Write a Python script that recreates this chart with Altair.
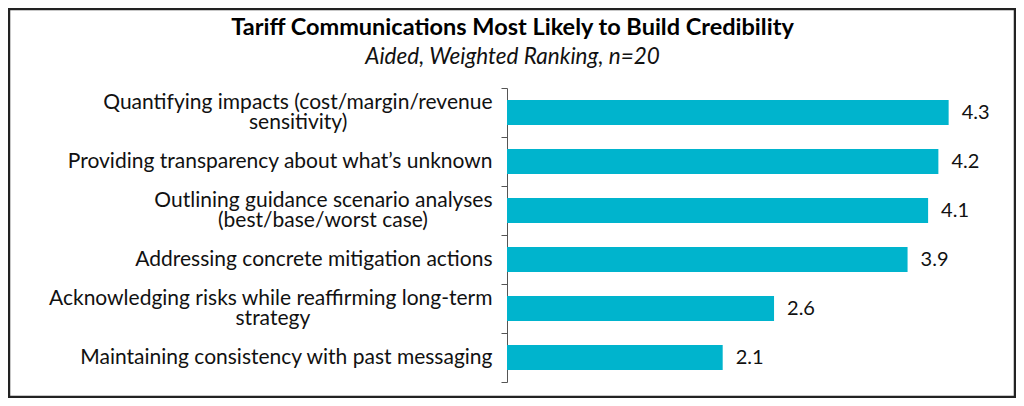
import altair as alt
import pandas as pd

line1 = [
    "Quantifying impacts (cost/margin/revenue",
    "Providing transparency about what’s unknown",
    "Outlining guidance scenario analyses",
    "Addressing concrete mitigation actions",
    "Acknowledging risks while reaffirming long-term",
    "Maintaining consistency with past messaging",
]
line2 = ["sensitivity)", "", "(best/base/worst case)", "", "strategy", ""]
values = [4.3, 4.2, 4.1, 3.9, 2.6, 2.1]
# trailing no-break spaces that centre a short second line under the first
pad = [27, 0, 12, 0, 34, 0]

NB, ZW = "\u00a0", "\u200b"
labels = [
    (a + "|" + ZW + "|" + b + NB * p + ZW) if b else (ZW + "|" + a)
    for a, b, p in zip(line1, line2, pad)
]
df = pd.DataFrame({"label": labels, "value": values})

FONT = "Lato"
HALF_LH = 9.75

y_enc = alt.Y(
    "label:N",
    sort=labels,
    title=None,
    scale=alt.Scale(paddingInner=0, paddingOuter=0),
    axis=alt.Axis(
        labelExpr="split(datum.label, '|')",
        labelFont=FONT,
        labelFontSize=21,
        labelColor="#111111",
        labelLineHeight=HALF_LH,
        labelOffset=-HALF_LH,
        labelPadding=9,
        labelAlign="right",
        labelLimit=600,
        tickSize=6,
        tickBand="extent",
        tickColor="#555555",
        domainColor="#555555",
        grid=False,
    ),
)
x_enc = alt.X("value:Q", title=None, scale=alt.Scale(domain=[0, 4.8], nice=False), axis=None)

bars = alt.Chart(df).mark_bar(color="#00B4CD", size=25).encode(y=y_enc, x=x_enc)
text = alt.Chart(df).mark_text(align="left", dx=13, font=FONT, fontSize=20, color="#111111").encode(
    y=alt.Y("label:N", sort=labels), x="value:Q", text=alt.Text("value:Q", format=".1f")
)
border_df = pd.DataFrame({"b": [1]})
border = alt.Chart(border_df).mark_rect(filled=False, stroke="#222222", strokeWidth=2.5).encode(
    x=alt.value(-498), x2=alt.value(508), y=alt.value(-79), y2=alt.value(309)
)

chart = (
    alt.layer(border, bars, text)
    .properties(
        width=493,
        height=294,
        autosize=alt.AutoSizeParams(type="none"),
        padding={"left": 499, "top": 80, "right": 16, "bottom": 16},
        title=alt.TitleParams(
            text="Tariff Communications Most Likely to Build Credibility",
            subtitle="Aided, Weighted Ranking, n=20",
            font=FONT,
            fontSize=23.5,
            fontWeight="bold",
            color="#000000",
            subtitleFont=FONT,
            subtitleFontSize=22.5,
            subtitleFontStyle="italic",
            subtitleColor="#111111",
            subtitlePadding=7,
            anchor="middle",
            dx=-241,
            offset=-61,
        ),
    )
    .configure_view(stroke=None)
)

chart.save("out.html", embed_options={"renderer": "svg", "actions": False})
